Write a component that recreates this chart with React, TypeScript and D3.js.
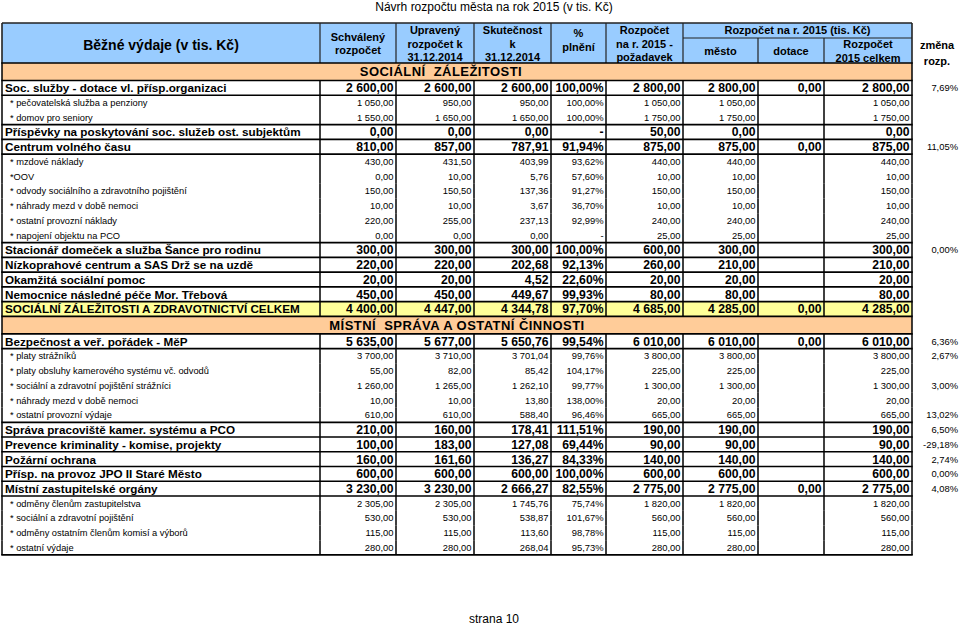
import React from "react";
import * as d3 from "d3";

// ---- data ----
const rowLabels: string[] = [
  "SOCIÁLNÍ  ZÁLEŽITOSTI",
  "Soc. služby - dotace vl. přísp.organizaci",
  "* pečovatelská služba a penziony",
  "* domov pro seniory",
  "Příspěvky na poskytování soc. služeb ost. subjektům",
  "Centrum volného času",
  "* mzdové náklady",
  "*OOV",
  "* odvody sociálního a zdravotního pojištění",
  "* náhrady mezd v době nemoci",
  "* ostatní provozní náklady",
  "* napojení objektu na PCO",
  "Stacionář domeček a služba Šance pro rodinu",
  "Nízkoprahové centrum a SAS Drž se na uzdě",
  "Okamžitá sociální pomoc",
  "Nemocnice následné péče Mor. Třebová",
  "SOCIÁLNÍ ZÁLEŽITOSTI A ZDRAVOTNICTVÍ CELKEM",
  "MÍSTNÍ  SPRÁVA A OSTATNÍ ČINNOSTI",
  "Bezpečnost a veř. pořádek - MěP",
  "* platy strážníků",
  "* platy obsluhy kamerového systému vč. odvodů",
  "* sociální a zdravotní pojištění strážníci",
  "* náhrady mezd v době nemoci",
  "* ostatní provozní výdaje",
  "Správa pracoviště kamer. systému a PCO",
  "Prevence kriminality - komise, projekty",
  "Požární ochrana",
  "Přísp. na provoz JPO II Staré Město",
  "Místní zastupitelské orgány",
  "* odměny členům zastupitelstva",
  "* sociální a zdravotní pojištění",
  "* odměny ostatním členům komisí a výborů",
  "* ostatní výdaje",
];
// B = bold item, S = sub item, T = total, H = section heading
const rowKinds: string[] = [
  "H", "B", "S", "S", "B", "B", "S", "S", "S", "S", "S", "S", "B", "B", "B", "B", "T",
  "H", "B", "S", "S", "S", "S", "S", "B", "B", "B", "B", "B", "S", "S", "S", "S",
];
type V = number | null;
const schvaleny: V[] = [null, 2600, 1050, 1550, 0, 810, 430, 0, 150, 10, 220, 0, 300, 220, 20, 450, 4400,
  null, 5635, 3700, 55, 1260, 10, 610, 210, 100, 160, 600, 3230, 2305, 530, 115, 280];
const upraveny: V[] = [null, 2600, 950, 1650, 0, 857, 431.5, 10, 150.5, 10, 255, 0, 300, 220, 20, 450, 4447,
  null, 5677, 3710, 82, 1265, 10, 610, 160, 183, 161.6, 600, 3230, 2305, 530, 115, 280];
const skutecnost: V[] = [null, 2600, 950, 1650, 0, 787.91, 403.99, 5.76, 137.36, 3.67, 237.13, 0, 300, 202.68, 4.52, 449.67, 4344.78,
  null, 5650.76, 3701.04, 85.42, 1262.1, 13.8, 588.4, 178.41, 127.08, 136.27, 600, 2666.27, 1745.76, 538.87, 113.6, 268.04];
// NaN = "-"
const plneni: V[] = [null, 100, 100, 100, NaN, 91.94, 93.62, 57.6, 91.27, 36.7, 92.99, NaN, 100, 92.13, 22.6, 99.93, 97.7,
  null, 99.54, 99.76, 104.17, 99.77, 138, 96.46, 111.51, 69.44, 84.33, 100, 82.55, 75.74, 101.67, 98.78, 95.73];
const pozadavek: V[] = [null, 2800, 1050, 1750, 50, 875, 440, 10, 150, 10, 240, 25, 600, 260, 20, 80, 4685,
  null, 6010, 3800, 225, 1300, 20, 665, 190, 90, 140, 600, 2775, 1820, 560, 115, 280];
const mesto: V[] = [null, 2800, 1050, 1750, 0, 875, 440, 10, 150, 10, 240, 25, 300, 210, 20, 80, 4285,
  null, 6010, 3800, 225, 1300, 20, 665, 190, 90, 140, 600, 2775, 1820, 560, 115, 280];
const dotace: V[] = [null, 0, null, null, null, 0, null, null, null, null, null, null, null, null, null, null, 0,
  null, 0, null, null, null, null, null, null, null, null, null, 0, null, null, null, null];
const celkem: V[] = [null, 2800, 1050, 1750, 0, 875, 440, 10, 150, 10, 240, 25, 300, 210, 20, 80, 4285,
  null, 6010, 3800, 225, 1300, 20, 665, 190, 90, 140, 600, 2775, 1820, 560, 115, 280];
const zmena: V[] = [null, 7.69, null, null, null, 11.05, null, null, null, null, null, null, 0, null, null, null, null,
  null, 6.36, 2.67, null, 3, null, 13.02, 6.5, -29.18, 2.74, 0, 4.08, null, null, null, null];

const title = "Návrh rozpočtu města na rok 2015 (v tis. Kč)";
const footer = "strana 10";

// ---- layout ----
const FONT = "'Liberation Sans', Arial, sans-serif";
const colEdges = [2, 320, 396, 474, 551, 606, 683, 758, 824, 912];
const headTop = 23, headMid = 38, headBottom = 63;
const sectionH = 17.5, rowH = 14.74;

const cz = d3.formatLocale({ decimal: ",", thousands: " ", grouping: [3], currency: ["", ""], minus: "-" });
const fNum = cz.format(",.2f");
const fPct = (v: number) => (isNaN(v) ? "-" : cz.format(".2f")(v) + "%");

export default function App() {
  const heights = rowKinds.map((k) => (k === "H" ? sectionH : rowH));
  const tops = [headBottom, ...Array.from(d3.cumsum(heights)).map((c) => headBottom + c)];
  const L = colEdges[0], R = colEdges[colEdges.length - 1];
  const valueCols: V[][] = [schvaleny, upraveny, skutecnost, plneni, pozadavek, mesto, dotace, celkem];

  const HS = 11;
  const hText = (x: number, y: number, s: string, key?: string) => (
    <text key={key ?? s + x + y} x={x} y={y + HS * 0.36} textAnchor="middle" fontSize={HS} fontWeight="bold" fill="#000">
      {s}
    </text>
  );
  const cx = (i: number) => (colEdges[i] + colEdges[i + 1]) / 2;

  const hLines: number[] = [];
  for (let i = 0; i <= rowKinds.length; i++) {
    const prev = rowKinds[i - 1], cur = rowKinds[i];
    if (prev === "S" && cur === "S") continue;
    hLines.push(tops[i]);
  }

  return (
    <svg width={960} height={626} style={{ position: "absolute", left: 0, top: 0, background: "#fff" }} fontFamily={FONT}>
      <rect width={960} height={626} fill="#fff" />
      <text x={494} y={11} textAnchor="middle" fontSize={12}>{title}</text>

      {/* header */}
      <rect x={L} y={headTop} width={R - L} height={headBottom - headTop} fill="#99CCFF" />
      {colEdges.map((x, i) => (
        i === 7 || i === 8 ? (
          <line key={"hv" + i} x1={x} x2={x} y1={headMid} y2={headBottom} stroke="#222" strokeWidth={1.2} />
        ) : (
          <line key={"hv" + i} x1={x} x2={x} y1={headTop} y2={headBottom} stroke="#222" strokeWidth={i === 0 || i === 9 ? 1.6 : 1.2} />
        )
      ))}
      <line x1={L} x2={R} y1={headTop} y2={headTop} stroke="#222" strokeWidth={1.6} />
      <line x1={colEdges[6]} x2={R} y1={headMid} y2={headMid} stroke="#222" strokeWidth={1.2} />
      <text x={cx(0)} y={45 + 5} textAnchor="middle" fontSize={14} fontWeight="bold">Běžné výdaje (v tis. Kč)</text>
      {hText(cx(1), 37, "Schválený")}
      {hText(cx(1), 50, "rozpočet")}
      {hText(cx(2), 30.5, "Upravený")}
      {hText(cx(2), 44, "rozpočet k")}
      {hText(cx(2), 57.5, "31.12.2014", "u3")}
      {hText(cx(3), 30.5, "Skutečnost")}
      {hText(cx(3), 44, "k")}
      {hText(cx(3), 57.5, "31.12.2014", "s3")}
      {hText(cx(4), 33, "%")}
      {hText(cx(4), 47, "plnění")}
      {hText(cx(5), 30.5, "Rozpočet", "p1")}
      {hText(cx(5), 44, "na r. 2015 -")}
      {hText(cx(5), 57.5, "požadavek")}
      {hText((colEdges[6] + R) / 2, 30.5, "Rozpočet na r. 2015 (tis. Kč)")}
      {hText(cx(6), 51.5, "město")}
      {hText(cx(7), 51.5, "dotace")}
      {hText(cx(8), 44.5, "Rozpočet", "c1")}
      {hText(cx(8), 58.5, "2015 celkem")}
      {hText(937, 45.5, "změna")}
      {hText(937, 61, "rozp.")}

      {/* row backgrounds */}
      {rowKinds.map((k, i) =>
        k === "H" || k === "T" ? (
          <rect key={"bg" + i} x={L} y={tops[i]} width={R - L} height={heights[i]} fill={k === "H" ? "#FFCC99" : "#FFFF99"} />
        ) : null
      )}

      {/* vertical lines */}
      {rowKinds.map((k, i) =>
        colEdges.map((x, j) =>
          k === "H" && j !== 0 && j !== colEdges.length - 1 ? null : (
            <line key={"v" + i + "_" + j} x1={x} x2={x} y1={tops[i]} y2={tops[i + 1]} stroke="#000" strokeWidth={1.5} />
          )
        )
      )}
      {/* horizontal lines */}
      {hLines.map((y, i) => (
        <line key={"h" + i} x1={L - 0.75} x2={R + 0.75} y1={y} y2={y} stroke="#000" strokeWidth={1.7} />
      ))}

      {/* rows */}
      {rowKinds.map((k, i) => {
        const yc = tops[i] + heights[i] / 2;
        if (k === "H") {
          return (
            <text key={"t" + i} x={(L + R) / 2 - (i === 0 ? 16 : 0)} y={yc + 4.6} textAnchor="middle" fontSize={13} fontWeight="bold" letterSpacing={0.45} style={{ whiteSpace: "pre" }}>
              {rowLabels[i]}
            </text>
          );
        }
        const bold = k !== "S";
        const size = bold ? 12.2 : 9.4;
        const by = yc + (bold ? 4.4 : 3.4);
        return (
          <g key={"r" + i} fontWeight={bold ? "bold" : "normal"} fontSize={size}>
            <text x={bold ? 5 : 10} y={by} fontSize={bold ? 11.7 : 9.3}>{rowLabels[i]}</text>
            {valueCols.map((col, j) => {
              const v = col[i];
              if (v === null) return null;
              const s = j === 3 ? fPct(v) : fNum(v);
              return (
                <text key={j} x={colEdges[j + 2] - 2.5} y={by} textAnchor="end">{s}</text>
              );
            })}
            {zmena[i] !== null ? (
              <text x={958} y={yc + 3.4} textAnchor="end" fontSize={9.4} fontWeight="normal">{fPct(zmena[i] as number)}</text>
            ) : null}
          </g>
        );
      })}

      <text x={494} y={623} textAnchor="middle" fontSize={12}>{footer}</text>
    </svg>
  );
}
